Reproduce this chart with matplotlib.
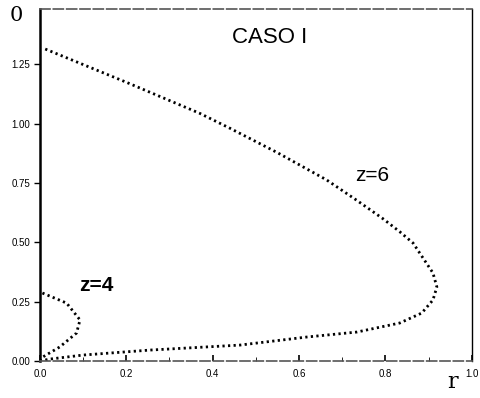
import matplotlib.pyplot as plt

# z=6 profile, traced from the origin round the nose and back to the axis
r_z6 = [0.00, 0.023, 0.10, 0.255, 0.463, 0.618, 0.734, 0.833, 0.884, 0.910, 0.919,
        0.910, 0.864, 0.833, 0.794, 0.733, 0.664, 0.55, 0.440, 0.370, 0.20, 0.007]
y_z6 = [0.00, 0.008, 0.025, 0.046, 0.067, 0.101, 0.122, 0.160, 0.202, 0.257, 0.312,
        0.371, 0.497, 0.545, 0.600, 0.678, 0.763, 0.878, 0.981, 1.044, 1.175, 1.319]

# z=4 profile
r_z4 = [0.00, 0.007, 0.046, 0.085, 0.093, 0.062, 0.00]
y_z4 = [0.00, 0.017, 0.059, 0.118, 0.173, 0.244, 0.291]

x_ticks = [0.0, 0.2, 0.4, 0.6, 0.8, 1.0]
y_ticks = [0.00, 0.25, 0.50, 0.75, 1.00, 1.25]

plt.rcParams["font.family"] = ["Liberation Sans", "DejaVu Sans"]

fig = plt.figure(figsize=(4.8, 3.98), dpi=100)
ax = fig.add_axes([0.083, 0.093, 0.9, 0.884])

dots = dict(color="black", linestyle=(0, (0.8, 1.2)), linewidth=2.0)
ax.plot(r_z6, y_z6, **dots)
ax.plot(r_z4, y_z4, **dots)

ax.set_xlim(0, 1.0)
ax.set_ylim(0, 1.483)
ax.set_xticks(x_ticks)
ax.set_xticklabels([f"{v:.1f}" for v in x_ticks])
ax.set_xticks([0.1, 0.3, 0.5, 0.7, 0.9], minor=True)
ax.set_yticks(y_ticks)
ax.set_yticklabels([f"{v:.2f}" for v in y_ticks])
ax.tick_params(axis="x", direction="in", length=4, width=1.2, labelsize=7, pad=6)
ax.tick_params(axis="x", which="minor", direction="in", length=3)
ax.tick_params(axis="y", direction="out", length=4, width=1.0, labelsize=7, pad=3)

ax.spines["left"].set_linewidth(1.8)
ax.spines["right"].set_linewidth(1.0)
for side in ("top", "bottom"):
    ax.spines[side].set_linewidth(1.2)
    ax.spines[side].set_linestyle((0, (6, 2)))
    ax.spines[side].set_color("#555555")

ax.text(0.532, 1.365, "CASO I", fontsize=16, ha="center", va="center")
ax.text(0.77, 0.78, "z=6", fontsize=15, ha="center", va="center")
ax.text(0.13, 0.32, "z=4", fontsize=15, ha="center", va="center", fontweight="bold")
fig.text(0.942, 0.04, "r", fontsize=16, ha="center", va="center", family="DejaVu Serif")
fig.text(0.035, 0.962, "0", fontsize=15, ha="center", va="center", family="DejaVu Serif")

fig.savefig("out.png", dpi=100, facecolor="white")
